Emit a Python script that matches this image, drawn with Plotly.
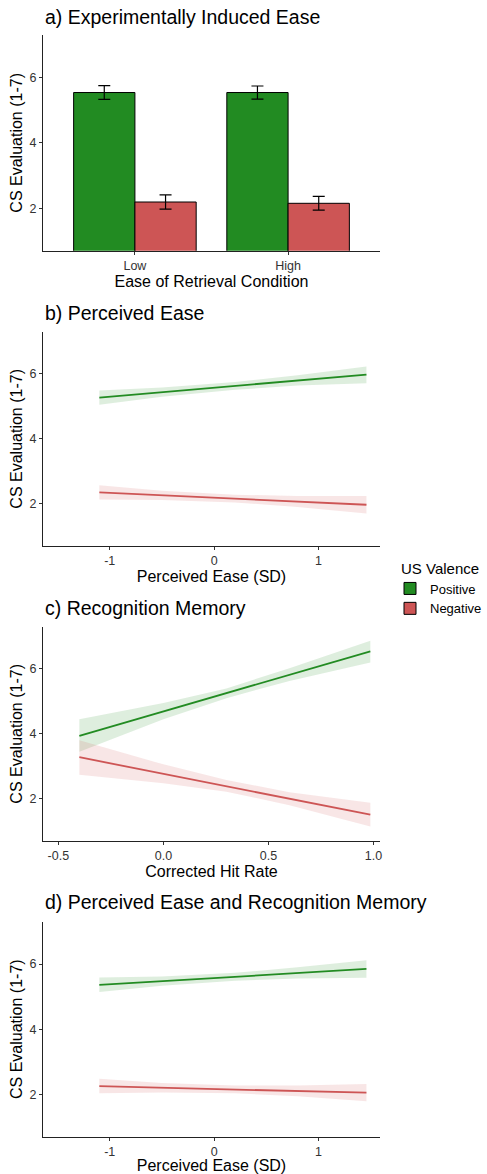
import plotly.graph_objects as go

W, H = 487, 1174
FONT = "Liberation Sans, Arial, sans-serif"
GREEN = "#228B22"
RED = "#CD5555"
GREEN_FILL = "rgba(34,139,34,0.15)"
RED_FILL = "rgba(205,85,85,0.15)"

# ---- Panel a data ----
conditions = ["Low", "High"]
pos_means = [5.54, 5.54]
pos_se = [0.21, 0.20]
neg_means = [2.19, 2.15]
neg_se = [0.22, 0.21]

# ---- Panel b data (Perceived Ease) ----
b_x = [-1.1, -0.5, 0.2, 0.8, 1.46]
b_pos_fit = [5.27, 5.44, 5.63, 5.80, 5.98]
b_pos_hi = [5.49, 5.58, 5.75, 5.96, 6.23]
b_pos_lo = [5.05, 5.30, 5.51, 5.64, 5.71]
b_neg_fit = [2.35, 2.26, 2.16, 2.07, 1.97]
b_neg_hi = [2.57, 2.40, 2.28, 2.24, 2.24]
b_neg_lo = [2.13, 2.12, 2.04, 1.90, 1.70]

# ---- Panel c data (Recognition Memory) ----
c_x = [-0.40, 0.0, 0.3, 0.6, 0.985]
c_pos_fit = [3.94, 4.69, 5.25, 5.82, 6.54]
c_pos_hi = [4.45, 4.95, 5.40, 6.02, 6.87]
c_pos_lo = [3.45, 4.45, 5.10, 5.63, 6.20]
c_neg_fit = [3.28, 2.77, 2.39, 2.00, 1.51]
c_neg_hi = [3.80, 3.06, 2.58, 2.20, 1.88]
c_neg_lo = [2.74, 2.48, 2.22, 1.80, 1.15]

# ---- Panel d data (Perceived Ease and Recognition Memory) ----
d_x = [-1.1, -0.5, 0.2, 0.8, 1.46]
d_pos_fit = [5.36, 5.47, 5.61, 5.72, 5.85]
d_pos_hi = [5.59, 5.62, 5.73, 5.90, 6.12]
d_pos_lo = [5.14, 5.33, 5.49, 5.56, 5.58]
d_neg_fit = [2.25, 2.20, 2.15, 2.10, 2.05]
d_neg_hi = [2.48, 2.35, 2.27, 2.27, 2.32]
d_neg_lo = [2.03, 2.06, 2.03, 1.94, 1.79]

titles = ["a) Experimentally Induced Ease", "b) Perceived Ease",
          "c) Recognition Memory", "d) Perceived Ease and Recognition Memory"]
xtitles = ["Ease of Retrieval Condition", "Perceived Ease (SD)",
           "Corrected Hit Rate", "Perceived Ease (SD)"]
ytitle = "CS Evaluation (1-7)"
y_ticks = [2, 4, 6]
ease_ticks = [-1, 0, 1]
hit_ticks = [-0.5, 0.0, 0.5, 1.0]
hit_ticktext = ["-0.5", "0.0", "0.5", "1.0"]
ease_ticktext = ["-1", "0", "1"]

# layout geometry (pixels)
L, R = 43, 380
panel_px = [(35, 250.7), (331.7, 546), (626.7, 841), (921.7, 1136.7)]
title_px = [17, 312.7, 608, 901.7]

def py(p):
    return 1 - p / H

fig = go.Figure()

# Panel a bars
fig.add_trace(go.Bar(
    x=conditions, y=pos_means, name="Positive", marker=dict(color=GREEN, line=dict(color="black", width=1)),
    error_y=dict(type="data", array=pos_se, color="black", thickness=1.2, width=6),
    xaxis="x", yaxis="y", legendgroup="pos"))
fig.add_trace(go.Bar(
    x=conditions, y=neg_means, name="Negative", marker=dict(color=RED, line=dict(color="black", width=1)),
    error_y=dict(type="data", array=neg_se, color="black", thickness=1.2, width=6),
    xaxis="x", yaxis="y", legendgroup="neg"))

def add_band(xs, fit, lo, hi, line_col, fill_col, ax):
    xa, ya = ("x" + ax, "y" + ax)
    fig.add_trace(go.Scatter(
        x=list(xs) + list(xs)[::-1], y=list(hi) + list(lo)[::-1],
        fill="toself", fillcolor=fill_col, line=dict(width=0), mode="lines",
        showlegend=False, hoverinfo="skip", xaxis=xa, yaxis=ya))
    fig.add_trace(go.Scatter(
        x=[xs[0], xs[-1]], y=[fit[0], fit[-1]], mode="lines",
        line=dict(color=line_col, width=1.8), showlegend=False, xaxis=xa, yaxis=ya))

add_band(b_x, b_pos_fit, b_pos_lo, b_pos_hi, GREEN, GREEN_FILL, "2")
add_band(b_x, b_neg_fit, b_neg_lo, b_neg_hi, RED, RED_FILL, "2")
add_band(c_x, c_pos_fit, c_pos_lo, c_pos_hi, GREEN, GREEN_FILL, "3")
add_band(c_x, c_neg_fit, c_neg_lo, c_neg_hi, RED, RED_FILL, "3")
add_band(d_x, d_pos_fit, d_pos_lo, d_pos_hi, GREEN, GREEN_FILL, "4")
add_band(d_x, d_neg_fit, d_neg_lo, d_neg_hi, RED, RED_FILL, "4")

axis_common = dict(showline=True, linecolor="#222222", linewidth=1.2, showgrid=False, zeroline=False,
                   ticks="outside", ticklen=3, tickcolor="#333333", tickwidth=1,
                   tickfont=dict(family=FONT, size=12.5, color="#333333"))

x_ranges = [[-0.6, 1.6], [-1.64, 1.59], [-0.573, 1.031], [-1.64, 1.59]]
x_tickvals = [None, ease_ticks, hit_ticks, ease_ticks]
x_ticktext = [None, ease_ticktext, hit_ticktext, ease_ticktext]
annotations = []
for i in range(4):
    suffix = "" if i == 0 else str(i + 1)
    top, bot = panel_px[i]
    xa = dict(axis_common, domain=[0, 1], range=x_ranges[i], anchor="y" + suffix,
              title=dict(text=xtitles[i], font=dict(family=FONT, size=16, color="black"), standoff=3))
    if i == 0:
        xa.update(type="category", categoryorder="array", categoryarray=conditions)
    else:
        xa.update(tickvals=x_tickvals[i], ticktext=x_ticktext[i])
    ya = dict(axis_common, domain=[py(bot), py(top)], range=[0.7, 7.3], anchor="x" + suffix,
              tickvals=y_ticks,
              title=dict(text=ytitle, font=dict(family=FONT, size=16, color="black"), standoff=2))
    fig.layout["xaxis" + suffix] = xa
    fig.layout["yaxis" + suffix] = ya
    annotations.append(dict(text=titles[i], x=0, xref="paper", xanchor="left",
                            y=py(title_px[i]), yref="paper", yanchor="middle",
                            showarrow=False, font=dict(family=FONT, size=19.5, color="black")))

fig.update_layout(
    width=W, height=H,
    margin=dict(l=L, r=W - R, t=0, b=0),
    paper_bgcolor="white", plot_bgcolor="white",
    barmode="group", bargap=0.2, bargroupgap=0,
    annotations=annotations,
    font=dict(family=FONT),
    legend=dict(title=dict(text="US Valence", font=dict(family=FONT, size=15, color="black")),
                font=dict(family=FONT, size=13, color="black"),
                x=(399 - L) / (R - L), xanchor="left", y=py(554), yanchor="top",
                indentation=-9,
                bgcolor="rgba(0,0,0,0)", tracegroupgap=0),
    showlegend=True,
)

fig.write_html("out.html", config={"displayModeBar": False},
               post_script="document.body.style.margin='0';document.body.style.padding='0';")
